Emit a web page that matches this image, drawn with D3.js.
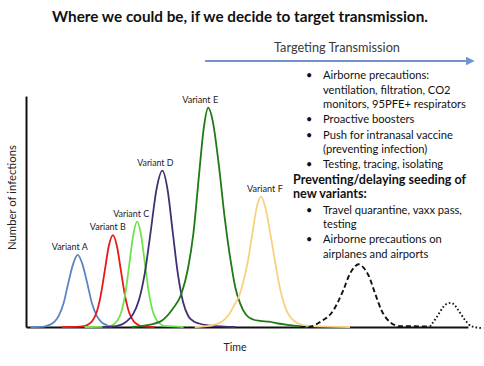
<!DOCTYPE html>
<html>
<head>
<meta charset="utf-8">
<script src="https://cdn.jsdelivr.net/npm/d3@7"></script>
<style>
  html, body { margin: 0; padding: 0; background: #fff; }
  svg { display: block; font-family: Lato, "Open Sans", sans-serif; }
</style>
</head>
<body>
<svg id="chart" width="484" height="366"></svg>
<script>
// ---------------- DATA ----------------
const title = "Where we could be, if we decide to target transmission.";
const arrowLabel = "Targeting Transmission";
const xAxisLabel = "Time";
const yAxisLabel = "Number of infections";

const variantNames = ["Variant A", "Variant B", "Variant C", "Variant D", "Variant E", "Variant F"];

// [time, infections] points
const variantA = [[1,0],[4,0.2],[5.2,0.9],[6.3,2.2],[7.3,4.9],[8.4,10.5],[9.4,18.8],[10.5,27.1],[11.5,30.8],[12.5,27.1],[13.6,18.8],[14.6,10.5],[15.7,4.9],[16.7,2.2],[17.8,0.9],[19,0]];
const variantB = [[8,0],[12,0.2],[13,0.4],[13.9,1.2],[14.8,2.8],[15.7,6.3],[16.6,13.4],[17.5,24],[18.4,34.6],[19.3,39.3],[20.2,34.6],[21.1,24],[22,13.4],[22.9,6.3],[23.8,2.8],[24.7,1.2],[25.6,0.4],[28.5,0]];
const variantC = [[13,0],[17.5,0.2],[18.75,0.45],[19.6,1.35],[20.45,3.15],[21.3,7.2],[22.15,15.3],[23,27.5],[23.85,39.6],[24.7,45],[25.55,39.6],[26.4,27.5],[27.25,15.3],[28.1,7.2],[28.95,3.15],[29.8,1.35],[30.65,0.45],[35,0]];
const variantD = [[17,0],[20,0.4],[21.2,1.0],[22.5,2.6],[23.8,5.5],[25.1,11.5],[26.4,23],[27.7,40.7],[29,58.8],[30.3,66.8],[31.45,58.8],[32.6,40.7],[33.75,22.7],[34.9,10.7],[36.05,4.7],[37.2,2.5],[38.4,1.5],[41,0.6],[44,0.2],[46.5,0]];
const variantE = [[23.5,0],[27,0.8],[30,2.5],[32.5,7.5],[34.5,14],[36,25],[37.2,40],[38.5,66],[39.5,85],[40.5,93.7],[41.5,88],[42.8,70],[44.2,46],[45.5,28],[46.5,17],[47.6,10],[49,5],[50.5,3.2],[52,2.6],[54,2.3],[56,1.5],[58.7,0.8],[62.5,0]];
const variantF = [[37.5,0],[41,0.6],[43.5,2.2],[45,5],[46.1,8.7],[47.5,14],[48.5,21],[49.3,28],[50.3,40],[51.2,50.5],[52.2,55.7],[53.2,51],[54.2,41],[55.3,28.6],[56.5,16],[57.5,9],[58.5,4.8],[59.5,2.8],[60.5,1.5],[63,0.4],[72,0]];
const futureDashed = [[61,0],[63,0.1],[65.3,2.1],[68.3,7.1],[70.5,15.7],[72,22.8],[73,25.6],[73.85,26.8],[75,25.4],[76.1,22.1],[77.6,14.2],[79,7.1],[80.9,2.1],[83.1,0.3],[86,0.3],[89.8,0.2]];
const futureDotted = [[89.8,0.2],[91.3,4.3],[92.7,8.5],[93.5,9.9],[94.4,10.3],[95.2,9.5],[96.1,7.1],[97.6,2.9],[99,0.3],[101.6,-0.5]];

const variantSeries = [variantA, variantB, variantC, variantD, variantE, variantF];

const notes = [
  {type: "bullet", lines: ["Airborne precautions:", "ventilation, filtration, CO2", "monitors, 95PFE+ respirators"]},
  {type: "bullet", lines: ["Proactive boosters"]},
  {type: "bullet", lines: ["Push for intranasal vaccine", "(preventing infection)"]},
  {type: "bullet", lines: ["Testing, tracing, isolating"]},
  {type: "heading", lines: ["Preventing/delaying seeding of", "new variants:"]},
  {type: "bullet", lines: ["Travel quarantine, vaxx pass,", "testing"]},
  {type: "bullet", lines: ["Airborne precautions on", "airplanes and airports"]}
];

// ---------------- STYLE ----------------
const variantColors = ["#5b86c2", "#e5191a", "#6ee34c", "#3f3073", "#1d7b15", "#f8d17e"];
const labelDx = [-8, -5, -6, -7, -8, 4];

// ---------------- DRAW ----------------
const svg = d3.select("#chart");

const x = d3.scaleLinear().domain([0, 100]).range([26, 476]);
const y = d3.scaleLinear().domain([0, 100]).range([327, 93]);

function fitText(sel, targetWidth) {
  const node = sel.node();
  const fs = parseFloat(sel.attr("font-size"));
  const w = node.getComputedTextLength();
  if (w > 0) sel.attr("font-size", (fs * targetWidth / w).toFixed(2));
  return sel;
}

// Title
fitText(svg.append("text")
  .attr("x", 240).attr("y", 22)
  .attr("text-anchor", "middle")
  .attr("font-size", 14).attr("font-weight", "bold")
  .attr("fill", "#111")
  .text(title), 376);

// Arrow
svg.append("defs").append("marker")
  .attr("id", "arrowhead")
  .attr("viewBox", "0 0 10 10")
  .attr("refX", 8).attr("refY", 5)
  .attr("markerWidth", 4).attr("markerHeight", 4)
  .attr("orient", "auto")
  .append("path").attr("d", "M0,0 L10,5 L0,10 Z").attr("fill", "#7194cc");

svg.append("line")
  .attr("x1", x(39.8)).attr("x2", x(99.3))
  .attr("y1", 61).attr("y2", 61)
  .attr("stroke", "#7194cc").attr("stroke-width", 2.2)
  .attr("marker-end", "url(#arrowhead)");

fitText(svg.append("text")
  .attr("x", 337).attr("y", 52)
  .attr("text-anchor", "middle")
  .attr("font-size", 12)
  .attr("fill", "#3a3a3a")
  .text(arrowLabel), 126);

// Notes
const notesG = svg.append("g");
let baseline = 79;
const lineH = 14.5;
const bulletX = 306, textX = 323;
notes.forEach((block, bi) => {
  block.lines.forEach((ln, li) => {
    if (block.type === "bullet" && li === 0) {
      notesG.append("text").attr("x", bulletX).attr("y", baseline)
        .attr("font-size", 11).attr("fill", "#111").text("•");
    }
    notesG.append("text")
      .attr("x", block.type === "heading" ? 293 : textX)
      .attr("y", baseline)
      .attr("font-size", 11.3)
      .attr("font-weight", block.type === "heading" ? "bold" : "normal")
      .attr("fill", "#111")
      .text(ln);
    baseline += lineH;
  });
  baseline += 0.8;
});
// scale note fonts to match reference width of widest lines
(function () {
  const texts = notesG.selectAll("text").filter(function () { return this.textContent === "monitors, 95PFE+ respirators"; });
  const w = texts.node().getComputedTextLength();
  const k = 143 / w;
  notesG.selectAll("text").each(function () {
    const s = d3.select(this);
    if (s.attr("font-weight") !== "bold") s.attr("font-size", (parseFloat(s.attr("font-size")) * k).toFixed(2));
  });
  const head = notesG.selectAll("text").filter(function () { return this.textContent === "Preventing/delaying seeding of"; });
  const hw = head.node().getComputedTextLength();
  const hk = 173 / hw;
  notesG.selectAll("text").each(function () {
    const s = d3.select(this);
    if (s.attr("font-weight") === "bold") s.attr("font-size", (parseFloat(s.attr("font-size")) * hk).toFixed(2));
  });
})();

// Axes (no ticks)
const xAxisScale = d3.scaleLinear().domain([0, 98.2]).range([x(0), x(98.2)]);
const yAxisScale = d3.scaleLinear().domain([0, 98.7]).range([y(0), y(98.7)]);

const xAxisG = svg.append("g").attr("transform", `translate(0,${y(0)})`)
  .call(d3.axisBottom(xAxisScale).tickValues([]).tickSizeOuter(0));
const yAxisG = svg.append("g").attr("transform", `translate(${x(0)},0)`)
  .call(d3.axisLeft(yAxisScale).tickValues([]).tickSizeOuter(0));
[xAxisG, yAxisG].forEach(g => g.select(".domain").attr("stroke", "#111").attr("stroke-width", 2));

// Axis labels
fitText(svg.append("text")
  .attr("transform", `translate(16,${(y(0) + y(98.7)) / 2 - 14}) rotate(-90)`)
  .attr("text-anchor", "middle")
  .attr("font-size", 11)
  .attr("fill", "#222")
  .text(yAxisLabel), 105);

fitText(svg.append("text")
  .attr("x", 235).attr("y", 351)
  .attr("text-anchor", "middle")
  .attr("font-size", 12)
  .attr("fill", "#222")
  .text(xAxisLabel), 23);

// Curves
const line = d3.line()
  .x(d => x(d[0]))
  .y(d => y(d[1]))
  .curve(d3.curveMonotoneX);

const curvesG = svg.append("g").attr("fill", "none");

// draw so that later variants appear on top, like the reference
variantSeries.forEach((s, i) => {
  curvesG.append("path")
    .attr("d", line(s))
    .attr("stroke", variantColors[i])
    .attr("stroke-width", 1.8)
    .attr("stroke-linejoin", "round");
});

curvesG.append("path")
  .attr("d", line(futureDashed))
  .attr("stroke", "#111")
  .attr("stroke-width", 1.9)
  .attr("stroke-dasharray", "5,3");

curvesG.append("path")
  .attr("d", line(futureDotted))
  .attr("stroke", "#111")
  .attr("stroke-width", 1.9)
  .attr("stroke-dasharray", "1.6,2.2");

// Variant labels
variantSeries.forEach((s, i) => {
  const peak = s.reduce((a, b) => (b[1] > a[1] ? b : a));
  fitText(svg.append("text")
    .attr("x", x(peak[0]) + labelDx[i])
    .attr("y", y(peak[1]) - 5)
    .attr("text-anchor", "middle")
    .attr("font-size", 9.5)
    .attr("fill", "#222")
    .text(variantNames[i]), 36);
});
</script>
</body>
</html>
